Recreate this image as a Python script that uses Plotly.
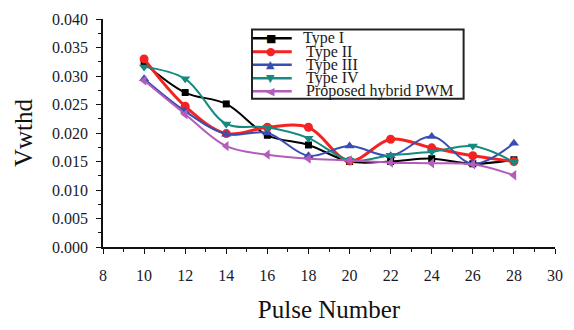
import plotly.graph_objects as go

pulse = [10, 12, 14, 16, 18, 20, 22, 24, 26, 28]
type1 = [0.0323, 0.0271, 0.0251, 0.0196, 0.0179, 0.0150, 0.0150, 0.0155, 0.0146, 0.0153]
type2 = [0.0330, 0.0247, 0.0199, 0.0210, 0.0210, 0.0151, 0.0189, 0.0174, 0.0160, 0.0150]
type3 = [0.0295, 0.0238, 0.0198, 0.0200, 0.0160, 0.0177, 0.0160, 0.0194, 0.0146, 0.0182]
type4 = [0.0316, 0.0295, 0.0216, 0.0210, 0.0191, 0.0152, 0.0161, 0.0167, 0.0177, 0.0149]
hybrid = [0.0292, 0.0233, 0.0177, 0.0162, 0.0155, 0.0152, 0.0148, 0.0147, 0.0145, 0.0126]

names = ["Type I", "Type II", "Type III", "Type IV", "Proposed hybrid PWM"]
series = [type1, type2, type3, type4, hybrid]
colors = ["#000000", "#f52222", "#3a4db3", "#158a80", "#b35cba"]
symbols = ["square", "circle", "triangle-up", "triangle-down", "triangle-left"]
glyphs = ["\u25A0", "\u25CF", "\u25B2", "\u25BC", "\u25C0"]
widths = [2, 3, 2, 2, 2]

SERIF = "Liberation Serif"

fig = go.Figure()
for name, vals, col, sym, w in zip(names, series, colors, symbols, widths):
    fig.add_trace(go.Scatter(
        x=pulse, y=vals, name=name, mode="lines+markers",
        line=dict(color=col, width=w, shape="spline", smoothing=1.0),
        marker=dict(symbol=sym, size=9 if sym != "square" else 7, color=col),
        showlegend=False,
    ))

# custom compact legend (box, line samples, symbols, labels)
plot_l, plot_r, plot_t, plot_b = 103, 558, 11, 248
W, H = plot_r - plot_l, plot_b - plot_t
def px(xp):
    return (xp - plot_l) / W
def py(yp):
    return (plot_b - yp) / H

shapes = [dict(type="rect", xref="paper", yref="paper",
               x0=px(253), x1=px(466), y0=py(94), y1=py(22),
               line=dict(color="#222", width=2), fillcolor="white", layer="above")]
annotations = []
rows = [31, 45, 58.5, 72.5, 86]
for i, (name, col, g) in enumerate(zip(names, colors, glyphs)):
    yp = rows[i]
    shapes.append(dict(type="line", xref="paper", yref="paper",
                       x0=px(254), x1=px(293), y0=py(yp), y1=py(yp),
                       line=dict(color=col, width=3 if i == 1 else 2.5), layer="above"))
    annotations.append(dict(xref="paper", yref="paper", x=px(272), y=py(yp),
                            text=g, showarrow=False, xanchor="center", yanchor="middle",
                            font=dict(family="DejaVu Sans", size=11, color=col)))
    annotations.append(dict(xref="paper", yref="paper", x=px(302 if i == 0 else 305), y=py(yp),
                            text=name, showarrow=False, xanchor="left", yanchor="middle",
                            font=dict(family=SERIF, size=16, color="#1a1a1a")))

fig.update_layout(
    width=574, height=330,
    margin=dict(l=plot_l, r=574 - plot_r, t=plot_t, b=330 - plot_b),
    paper_bgcolor="white", plot_bgcolor="white",
    font=dict(family=SERIF, color="#1a1a1a"),
    shapes=shapes, annotations=annotations,
)
fig.update_xaxes(
    range=[8, 30], dtick=2, tick0=8, showgrid=False, zeroline=False,
    showline=True, linecolor="#111", linewidth=1.5,
    ticks="outside", ticklen=5, tickwidth=1.2, tickcolor="#111",
    minor=dict(dtick=1, ticks="outside", ticklen=3, tickcolor="#111"),
    tickfont=dict(family=SERIF, size=16, color="#1a1a2a"),
    ticklabelstandoff=8,
    title=dict(text="Pulse Number", font=dict(family=SERIF, size=25, color="#111"), standoff=18),
)
fig.update_yaxes(
    range=[0, 0.04], dtick=0.005, tickformat=".3f", showgrid=False, zeroline=False,
    showline=True, linecolor="#111", linewidth=1.5,
    ticks="outside", ticklen=5, tickwidth=1.2, tickcolor="#111",
    minor=dict(dtick=0.0025, ticks="outside", ticklen=3, tickcolor="#111"),
    tickfont=dict(family=SERIF, size=16, color="#1a1a2a"),
    ticklabelstandoff=5,
    title=dict(text="Vwthd", font=dict(family=SERIF, size=25, color="#111"), standoff=12),
)

fig.write_html("out.html")
